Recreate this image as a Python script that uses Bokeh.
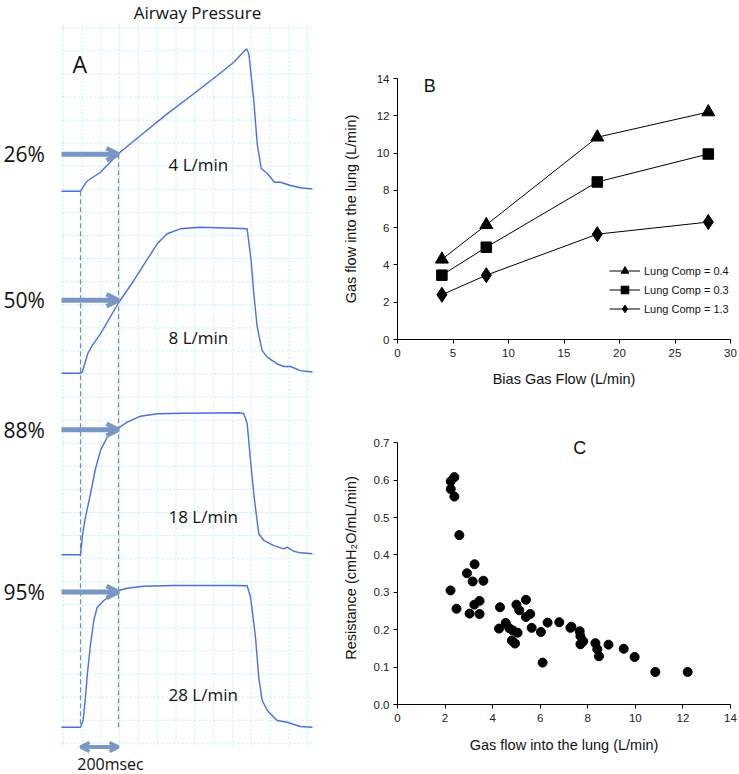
import numpy as np
from bokeh.plotting import figure
from bokeh.layouts import row, column
from bokeh.models import (Range1d, Arrow, OpenHead, Legend, LegendItem,
                          FixedTicker, Label, NumeralTickFormatter)
from bokeh.core.properties import value
from bokeh.embed import file_html
from bokeh.resources import INLINE

# ---------------- Panel A data: airway pressure (% of peak) vs time (ms)
trace_flows = ["4 L/min", "8 L/min", "18 L/min", "28 L/min"]
pct_labels = ["26%", "50%", "88%", "95%"]
pct_at_200ms = [26, 50, 88, 95]
window_ms = [0, 200]

t_4 = [-100, 0, 32, 105, 202, 316, 456, 596, 720, 807, 874, 886, 912, 930, 951, 983, 1021, 1053, 1105, 1158, 1221]
p_4 = [0, 0, 6.8, 13.3, 26.7, 39.1, 54.3, 68.4, 81.2, 90.6, 100, 96.5, 63.6, 33.4, 15.9, 12.4, 6.3, 6.3, 4.0, 2.4, 1.5]

t_8 = [-100, 0, 9, 38, 62, 105, 202, 281, 351, 404, 456, 526, 632, 807, 877, 898, 912, 930, 956, 983, 1035, 1070, 1105, 1158, 1221]
p_8 = [0, 0, 0.7, 13.3, 19, 27, 48.6, 63.5, 77.9, 88.6, 95.5, 98.9, 100, 99.3, 98.9, 77.2, 54.6, 31.5, 15.5, 11, 6.4, 4.6, 4.6, 1.8, 0.8]

t_18 = [-100, 0, 10.5, 23.7, 52.6, 78.9, 105.3, 140.5, 193.2, 245.8, 315.8, 403.7, 543.7, 842.1, 859.5, 877.4, 894.7, 912.1, 929, 938.4, 964.7, 1017.4, 1070, 1087.9, 1122.6, 1157.9, 1221]
p_18 = [0, 0, 13.6, 24.9, 43, 60.6, 73.5, 82.8, 88.7, 93.4, 97.6, 99.3, 99.7, 100, 99.3, 92.3, 66.4, 43, 24.2, 14.8, 10.1, 6.5, 4.2, 5.4, 2.5, 1.4, 0.7]

t_28 = [-100, 0, 14, 26, 38, 53, 70, 88, 123, 158, 202, 246, 333, 491, 807, 877, 895, 921, 938, 956, 983, 1035, 1088, 1123, 1158, 1221]
p_28 = [0, 0, 4.7, 21.1, 39.8, 58.6, 74.9, 84.3, 89, 92.5, 96, 97.6, 99, 99.5, 99.5, 99.3, 91.3, 63.2, 35.1, 18.8, 11.7, 4.7, 3.5, 1.9, 0.5, 0]

# ---------------- Panel B data
bias_flow = [4, 8, 18, 28]
flow_comp_04 = [4.3, 6.15, 10.85, 12.2]
flow_comp_03 = [3.45, 4.95, 8.45, 9.95]
flow_comp_13 = [2.4, 3.45, 5.65, 6.3]
series_names = ["Lung Comp = 0.4", "Lung Comp = 0.3", "Lung Comp = 1.3"]

# ---------------- Panel C data
gas_flow = [2.24, 2.39, 2.24, 2.39, 2.60, 2.92, 3.24, 3.16, 3.61, 2.23,
            2.48, 3.03, 3.23, 3.45, 3.45, 4.31, 4.27, 4.55, 4.70, 4.81,
            4.85, 4.94, 5.05, 5.00, 5.12, 5.40, 5.40, 5.58, 5.64, 6.03,
            6.10, 6.31, 6.80, 7.27, 7.31, 7.66, 7.69, 7.69, 7.81, 8.32,
            8.40, 8.47, 8.87, 9.51, 9.97, 10.84, 12.20]
resistance = [0.597, 0.608, 0.576, 0.556, 0.453, 0.351, 0.375, 0.329, 0.331, 0.305,
              0.256, 0.243, 0.267, 0.277, 0.242, 0.260, 0.203, 0.218, 0.204, 0.171,
              0.198, 0.163, 0.192, 0.267, 0.252, 0.280, 0.234, 0.242, 0.205, 0.194,
              0.112, 0.219, 0.220, 0.205, 0.208, 0.196, 0.183, 0.161, 0.169, 0.164,
              0.148, 0.129, 0.160, 0.149, 0.127, 0.087, 0.087]

# ================= Panel A =================
MS_PER_PX = 200.0 / 38.0
def tx(px):
    return float((px - 80.0) * MS_PER_PX)

BASE_PX = [190.7, 372.7, 554.3, 726.7]
AMP_PX = [142.4, 146.0, 142.0, 142.4]
TRACE_C = "#4b6fe2"
ARROW_C = "#7a97c4"
GRID_C = "#bdeef6"
FONT_A = value("Open Sans")

figA = figure(width=330, height=774, x_range=Range1d(tx(0), tx(330)),
              y_range=Range1d(774, 0), x_axis_type=None, y_axis_type=None,
              toolbar_location=None, output_backend="svg", min_border=0,
              outline_line_color=None)

# chart-paper grid
gx = [tx(62.7 + 18.8 * k) for k in range(14)]
figA.segment(x0=gx, y0=24, x1=gx, y1=745, line_color=GRID_C, line_width=1, line_dash="2 2")
gy = [27.3 + 23.08 * k for k in range(32)]
figA.segment(x0=tx(61), y0=gy, x1=tx(313), y1=gy, line_color=GRID_C,
             line_width=1, line_dash="2 2")

traces = [(t_4, p_4), (t_8, p_8), (t_18, p_18), (t_28, p_28)]
for i in range(4):
    b, a = BASE_PX[i], AMP_PX[i]
    figA.extra_y_ranges[f"tr{i}"] = Range1d(start=(b - 774) * 100 / a, end=b * 100 / a)

# dashed 200 ms window
y_top = [BASE_PX[0], BASE_PX[0] - pct_at_200ms[0] * AMP_PX[0] / 100]
figA.segment(x0=window_ms, y0=y_top, x1=window_ms, y1=[BASE_PX[3]] * 2,
             line_color="#6f8db5", line_width=1.2, line_dash="5 3")

for i, (tt, pp) in enumerate(traces):
    figA.line(tt, pp, y_range_name=f"tr{i}", line_color=TRACE_C, line_width=1.4)
    figA.add_layout(Arrow(x_start=tx(61), x_end=window_ms[1],
                          y_start=pct_at_200ms[i], y_end=pct_at_200ms[i],
                          y_range_name=f"tr{i}", line_color=ARROW_C, line_width=5,
                          end=OpenHead(size=12, line_width=4.5, line_color=ARROW_C)))

pct_y = [BASE_PX[i] - pct_at_200ms[i] * AMP_PX[i] / 100 for i in range(4)]
figA.text(x=[tx(3)] * 4, y=pct_y, text=pct_labels, text_align="left",
          text_baseline="middle", text_font=FONT_A, text_font_size="21px", text_color="#111111")
flow_label_y = [164, 337, 516, 694]
figA.text(x=[tx(168)] * 4, y=flow_label_y, text=trace_flows, text_align="left",
          text_baseline="middle", text_font=FONT_A, text_font_size="17px", text_color="#111111")

figA.add_layout(Label(x=tx(197), y=12, text="Airway Pressure", text_align="center",
                      text_baseline="middle", text_font="Open Sans", text_font_size="17px",
                      text_color="#111111"))
figA.add_layout(Label(x=tx(72), y=63, text="A", text_align="left",
                      text_baseline="middle", text_font="Open Sans", text_font_size="23px",
                      text_color="#111111"))
figA.add_layout(Arrow(x_start=window_ms[0], x_end=window_ms[1], y_start=746.5, y_end=746.5,
                      line_color=ARROW_C, line_width=4,
                      start=OpenHead(size=9, line_width=3.5, line_color=ARROW_C),
                      end=OpenHead(size=9, line_width=3.5, line_color=ARROW_C)))
figA.add_layout(Label(x=tx(110), y=763, text="200msec", text_align="center",
                      text_baseline="middle", text_font="Open Sans", text_font_size="16px",
                      text_color="#111111"))

# ================= Panel B / C common styling =================
FONT_BC = "Liberation Sans"

def style_axes(f):
    f.outline_line_color = None
    f.grid.visible = False
    for ax in (f.xaxis[0], f.yaxis[0]):
        ax.axis_line_color = "black"
        ax.axis_line_width = 1
        ax.major_tick_line_color = "black"
        ax.major_tick_out = 4
        ax.major_tick_in = 0
        ax.minor_tick_line_color = None
        ax.major_label_text_font = FONT_BC
        ax.major_label_text_font_size = "11.5px"
        ax.major_label_text_color = "#222222"
        ax.axis_label_text_font = FONT_BC
        ax.axis_label_text_font_size = "14.5px"
        ax.axis_label_text_font_style = "normal"
        ax.axis_label_text_color = "#111111"

# ================= Panel B =================
figB = figure(width=409, height=400, x_range=Range1d(0, 30), y_range=Range1d(0, 14),
              toolbar_location=None, output_backend="svg",
              min_border_left=67, min_border_right=9, min_border_top=78, min_border_bottom=61)
style_axes(figB)
figB.xaxis.ticker = FixedTicker(ticks=[0, 5, 10, 15, 20, 25, 30])
figB.yaxis.ticker = FixedTicker(ticks=[0, 2, 4, 6, 8, 10, 12, 14])
figB.xaxis.axis_label = "Bias Gas Flow (L/min)"
figB.yaxis.axis_label = "Gas flow into the lung (L/min)"
figB.xaxis.major_label_standoff = 5
figB.xaxis.axis_label_standoff = 11
figB.yaxis.major_label_standoff = 4
figB.yaxis.axis_label_standoff = 15

items = []
specs = [(flow_comp_04, "triangle", 13),
         (flow_comp_03, "square", 10.5),
         (flow_comp_13, "diamond", 15)]
for (ys, mk, sz), name in zip(specs, series_names):
    rl = figB.line(bias_flow, ys, line_color="black", line_width=1)
    rm = figB.scatter(bias_flow, ys, marker=mk, size=sz,
                      fill_color="black", line_color="black")
    items.append(LegendItem(label=name, renderers=[rl, rm]))
legB = Legend(items=items, location=(212, 21), padding=0, spacing=0, margin=0,
              glyph_width=31, glyph_height=19, label_height=17, label_standoff=4,
              label_text_font=FONT_BC, label_text_font_size="11px",
              label_text_color="#111111",
              background_fill_alpha=0, border_line_color=None)
figB.add_layout(legB)
figB.add_layout(Label(x=2.37, y=13.62, text="B", text_align="left", text_baseline="middle",
                      text_font=FONT_BC, text_font_size="18px", text_color="#111111"))

# ================= Panel C =================
figC = figure(width=409, height=374, x_range=Range1d(0, 14), y_range=Range1d(0, 0.73),
              toolbar_location=None, output_backend="svg",
              min_border_left=67, min_border_right=9, min_border_top=31, min_border_bottom=70)
style_axes(figC)
figC.yaxis.bounds = (0, 0.7)
figC.xaxis.ticker = FixedTicker(ticks=[0, 2, 4, 6, 8, 10, 12, 14])
figC.yaxis.ticker = FixedTicker(ticks=[0, 0.1, 0.2, 0.3, 0.4, 0.5, 0.6, 0.7])
figC.yaxis.formatter = NumeralTickFormatter(format="0.0")
figC.xaxis.axis_label = "Gas flow into the lung (L/min)"
figC.yaxis.axis_label = "Resistance (cmH\u2082O/mL/min)"
figC.xaxis.major_label_standoff = 5
figC.xaxis.axis_label_standoff = 12
figC.yaxis.major_label_standoff = 4
figC.yaxis.axis_label_standoff = 12
figC.scatter(gas_flow, resistance, marker="circle", size=9, fill_color="black",
             line_color="black")
figC.add_layout(Label(x=7.66, y=0.687, text="C", text_align="center", text_baseline="middle",
                      text_font=FONT_BC, text_font_size="18px", text_color="#111111"))

p = row(figA, column(figB, figC))
open("out.html", "w").write(file_html(p, INLINE))
